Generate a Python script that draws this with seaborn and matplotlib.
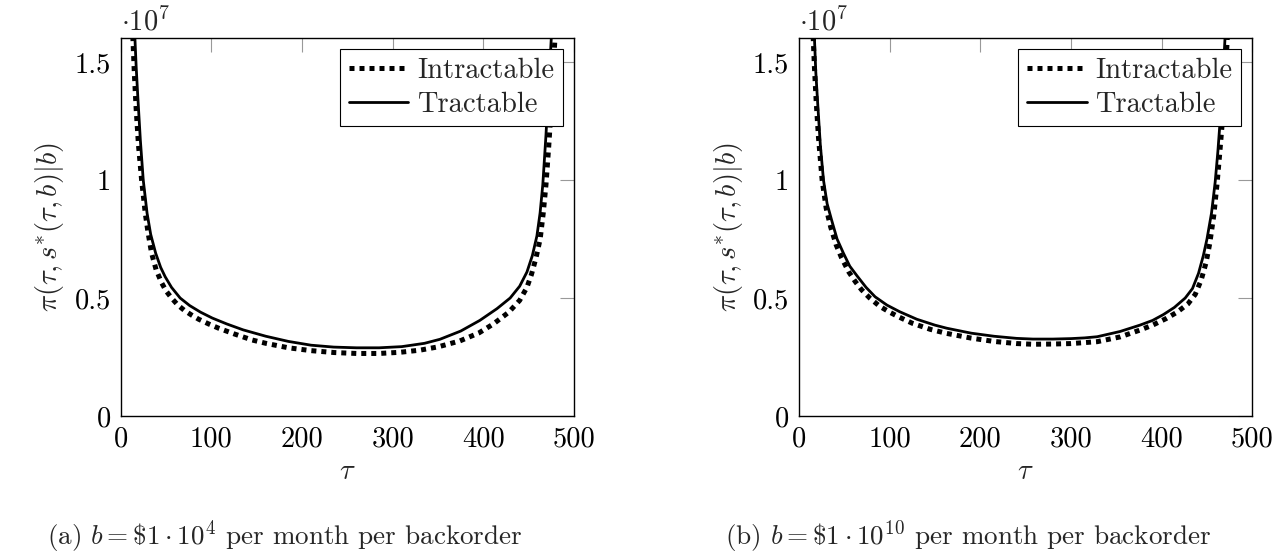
import matplotlib
matplotlib.use("Agg")
import matplotlib.pyplot as plt
import seaborn as sns
import pandas as pd

# --- DATOS (pi en unidades de 1e7) ---
tau_a_intr = [13.3, 15, 17, 19.5, 23, 27, 30, 34, 39, 45, 50, 56, 63, 70, 78, 86, 97, 108, 125, 145,
              160, 185, 210, 235, 260, 285, 308, 330, 350, 374, 395, 411, 428, 440, 448, 453, 458,
              462.6, 466, 469, 472, 475, 477, 479]
pi_a_intr = [1.61, 1.45, 1.30, 1.15, 1.00, 0.86, 0.78, 0.69, 0.62, 0.565, 0.53, 0.50, 0.47, 0.448,
             0.428, 0.41, 0.39, 0.372, 0.348, 0.322, 0.308, 0.289, 0.277, 0.269, 0.265, 0.265, 0.27,
             0.279, 0.293, 0.318, 0.352, 0.39, 0.44, 0.49, 0.545, 0.60, 0.67, 0.75, 0.86, 0.98,
             1.14, 1.32, 1.46, 1.61]
tau_a_tract = [15.5, 17, 18.7, 21.6, 24.8, 29, 33, 38.5, 44, 49, 56, 65.5, 76, 88, 101, 117, 135, 160,
               185, 210, 235, 260, 285, 310, 335, 352, 375, 396, 415, 429.5, 440, 448, 454, 459, 462.5,
               465.5, 469, 472, 475]
pi_a_tract = [1.61, 1.48, 1.36, 1.17, 1.00, 0.86, 0.77, 0.69, 0.63, 0.59, 0.545, 0.50, 0.468, 0.44,
              0.415, 0.39, 0.365, 0.338, 0.316, 0.300, 0.292, 0.289, 0.289, 0.294, 0.308, 0.325, 0.36,
              0.405, 0.455, 0.50, 0.55, 0.61, 0.68, 0.763, 0.86, 0.98, 1.19, 1.40, 1.61]

tau_b_intr = [15.6, 17, 19, 21.5, 25.5, 30, 35, 41, 47, 55, 62, 69, 78, 89, 100, 110, 125, 145, 163,
              190, 215, 240, 258, 280, 300, 329, 354, 376, 390, 405, 417, 429, 437, 443.5, 449, 453,
              457.5, 461, 464, 467, 470, 472.5]
pi_b_intr = [1.61, 1.48, 1.33, 1.18, 1.00, 0.88, 0.80, 0.725, 0.67, 0.61, 0.57, 0.535, 0.50, 0.465,
             0.44, 0.42, 0.393, 0.367, 0.35, 0.33, 0.316, 0.307, 0.304, 0.305, 0.307, 0.315, 0.335,
             0.364, 0.385, 0.413, 0.44, 0.475, 0.515, 0.575, 0.65, 0.73, 0.85, 0.98, 1.11, 1.25, 1.42,
             1.61]
tau_b_tract = [17, 18.5, 20.7, 23.5, 27, 31, 36, 42, 49, 56, 64, 74, 84, 97, 111, 130, 150, 163, 190,
               215, 240, 258, 280, 300, 315, 329, 354, 376, 390, 402, 414, 426, 434, 440.7, 446, 450,
               455, 459, 462, 464.5, 467.5, 470]
pi_b_tract = [1.605, 1.46, 1.32, 1.15, 1.00, 0.90, 0.83, 0.75, 0.69, 0.635, 0.594, 0.545, 0.505, 0.47,
              0.442, 0.41, 0.385, 0.372, 0.351, 0.338, 0.329, 0.326, 0.326, 0.328, 0.331, 0.336, 0.358,
              0.385, 0.405, 0.43, 0.46, 0.50, 0.54, 0.605, 0.68, 0.75, 0.86, 0.99, 1.12, 1.25, 1.42, 1.61]

x_ticks = [0, 100, 200, 300, 400, 500]
y_ticks = [0, 0.5, 1, 1.5]
y_tick_labels = ["0", "0.5", "1", "1.5"]
captions = [r"(a) $b=\$1\cdot10^4$ per month per backorder",
            r"(b) $b=\$1\cdot10^{10}$ per month per backorder"]

# --- ESTILO ---
sns.set_theme(style="white")
plt.rcParams["font.family"] = ["cmr10", "DejaVu Serif"]
plt.rcParams["mathtext.fontset"] = "cm"
plt.rcParams["axes.unicode_minus"] = False
plt.rcParams["axes.formatter.use_mathtext"] = True
FS = 20.5

fig = plt.figure(figsize=(12.86, 5.56), dpi=100)
ax_a = fig.add_axes([0.0939, 0.2518, 0.3525, 0.6799])
ax_b = fig.add_axes([0.6213, 0.2518, 0.3525, 0.6799])

paneles = [
    (ax_a, tau_a_intr, pi_a_intr, tau_a_tract, pi_a_tract),
    (ax_b, tau_b_intr, pi_b_intr, tau_b_tract, pi_b_tract),
]

for ax, t_i, p_i, t_t, p_t in paneles:
    df_i = pd.DataFrame({"tau": t_i, "pi": p_i})
    df_t = pd.DataFrame({"tau": t_t, "pi": p_t})
    sns.lineplot(data=df_i, x="tau", y="pi", ax=ax, color="black", lw=3.6,
                 linestyle=(0, (1, 1)), dash_capstyle="butt", label="Intractable")
    sns.lineplot(data=df_t, x="tau", y="pi", ax=ax, color="black", lw=2.0,
                 label="Tractable")

    ax.set_xlim(0, 500)
    ax.set_ylim(0, 1.602)
    ax.set_xticks(x_ticks)
    ax.set_xticklabels([str(t) for t in x_ticks])
    ax.set_yticks(y_ticks)
    ax.set_yticklabels(y_tick_labels)
    ax.tick_params(direction="in", length=10, width=0.8, color="#999999",
                   labelsize=FS, labelcolor="black", top=True, right=True, pad=7)
    for s in ax.spines.values():
        s.set_color("black")
        s.set_linewidth(1.0)

    ax.set_xlabel(r"$\tau$", fontsize=FS, labelpad=5)
    ax.set_ylabel(r"$\pi(\tau,s^{*}(\tau,b)|b)$", fontsize=FS, labelpad=6)
    ax.text(0.0, 1.005, r"$\cdot 10^7$", transform=ax.transAxes, fontsize=FS,
            ha="left", va="bottom")

    leg = ax.legend(loc="upper right", fontsize=FS, frameon=True, fancybox=False,
                    edgecolor="black", framealpha=1, borderaxespad=0.4,
                    handlelength=2.1, handletextpad=0.3, borderpad=0.3, labelspacing=0.25)
    leg.get_frame().set_linewidth(0.8)

# pies de figura
fig.text(0.0365, 0.034, captions[0], fontsize=19.5, ha="left", va="center")
fig.text(0.564, 0.034, captions[1], fontsize=19.5, ha="left", va="center")

fig.savefig("out.png", dpi=100)
